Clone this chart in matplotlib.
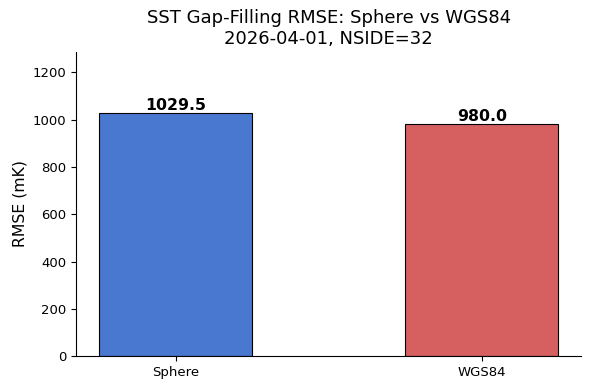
import matplotlib.pyplot as plt

labels = ['Sphere', 'WGS84']
rmse = [1029.5, 980.0]
colors = ['#4878d0', '#d65f5f']

fig, ax = plt.subplots(figsize=(5.9, 3.9), dpi=100)
fig.subplots_adjust(left=0.129, right=0.985, top=0.867, bottom=0.087)

bars = ax.bar(labels, rmse, width=0.5, color=colors, edgecolor='black', linewidth=0.8)
for b, v in zip(bars, rmse):
    ax.text(b.get_x() + b.get_width() / 2, v, f'{v:.1f}', ha='center', va='bottom',
            fontsize=11.3, fontweight='bold')

ax.set_ylabel('RMSE (mK)', fontsize=11.3)
ax.set_title('SST Gap-Filling RMSE: Sphere vs WGS84\n2026-04-01, NSIDE=32', fontsize=13)
ax.tick_params(labelsize=9.5)
ax.set_ylim(0, max(rmse) * 1.25)
ax.spines['top'].set_visible(False)
ax.spines['right'].set_visible(False)

plt.savefig('out.png')
